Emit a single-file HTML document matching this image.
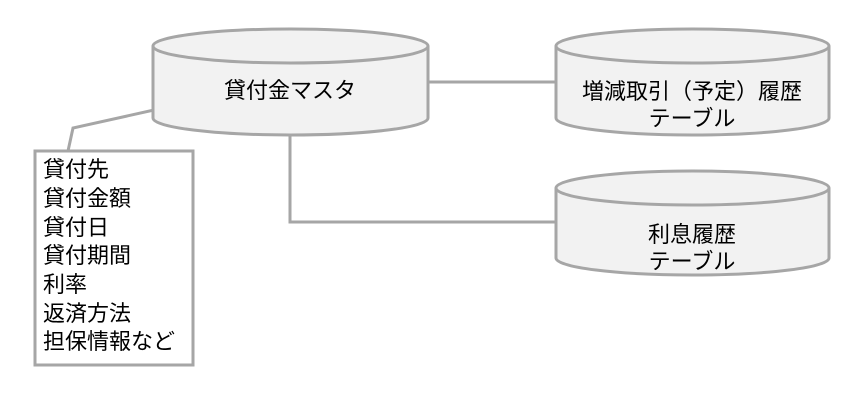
<!DOCTYPE html>
<html><head><meta charset="utf-8"><style>
body{margin:0;background:#fff;}
svg text{font-family:"Liberation Sans","Noto Sans CJK JP",sans-serif;font-size:22px;fill:#000;}
</style></head><body>
<svg width="860" height="400" xmlns="http://www.w3.org/2000/svg">
<g stroke="#a6a6a6" stroke-width="3" fill="none">
<polyline points="172,106 73,128 68,151"/>
<polyline points="290,135 290,222 556,222"/>
<line x1="428" y1="82" x2="556" y2="82"/>
</g>
<g stroke="#a6a6a6" stroke-width="3" fill="#f2f2f2">
<path d="M153,46 L153,118 A137.5,17 0 0 0 428,118 L428,46"/>
<ellipse cx="290.5" cy="46" rx="137.5" ry="17"/>
<path d="M556,46 L556,118 A136.5,17 0 0 0 829,118 L829,46"/>
<ellipse cx="692.5" cy="46" rx="136.5" ry="17"/>
<path d="M556,188 L556,258 A136.5,17 0 0 0 829,258 L829,188"/>
<ellipse cx="692.5" cy="188" rx="136.5" ry="17"/>
</g>
<rect x="35" y="151" width="158" height="214" fill="#fff" stroke="#a6a6a6" stroke-width="3"/>
<text x="290" y="98" text-anchor="middle">貸付金マスタ</text>
<text x="692" y="99" text-anchor="middle">増減取引（予定）履歴</text>
<text x="692" y="126" text-anchor="middle">テーブル</text>
<text x="692" y="242" text-anchor="middle">利息履歴</text>
<text x="692" y="269" text-anchor="middle">テーブル</text>
<g>
<text x="43" y="177">貸付先</text>
<text x="43" y="206">貸付金額</text>
<text x="43" y="235">貸付日</text>
<text x="43" y="263">貸付期間</text>
<text x="43" y="292">利率</text>
<text x="43" y="321">返済方法</text>
<text x="43" y="349">担保情報など</text>
</g>
</svg>
</body></html>
